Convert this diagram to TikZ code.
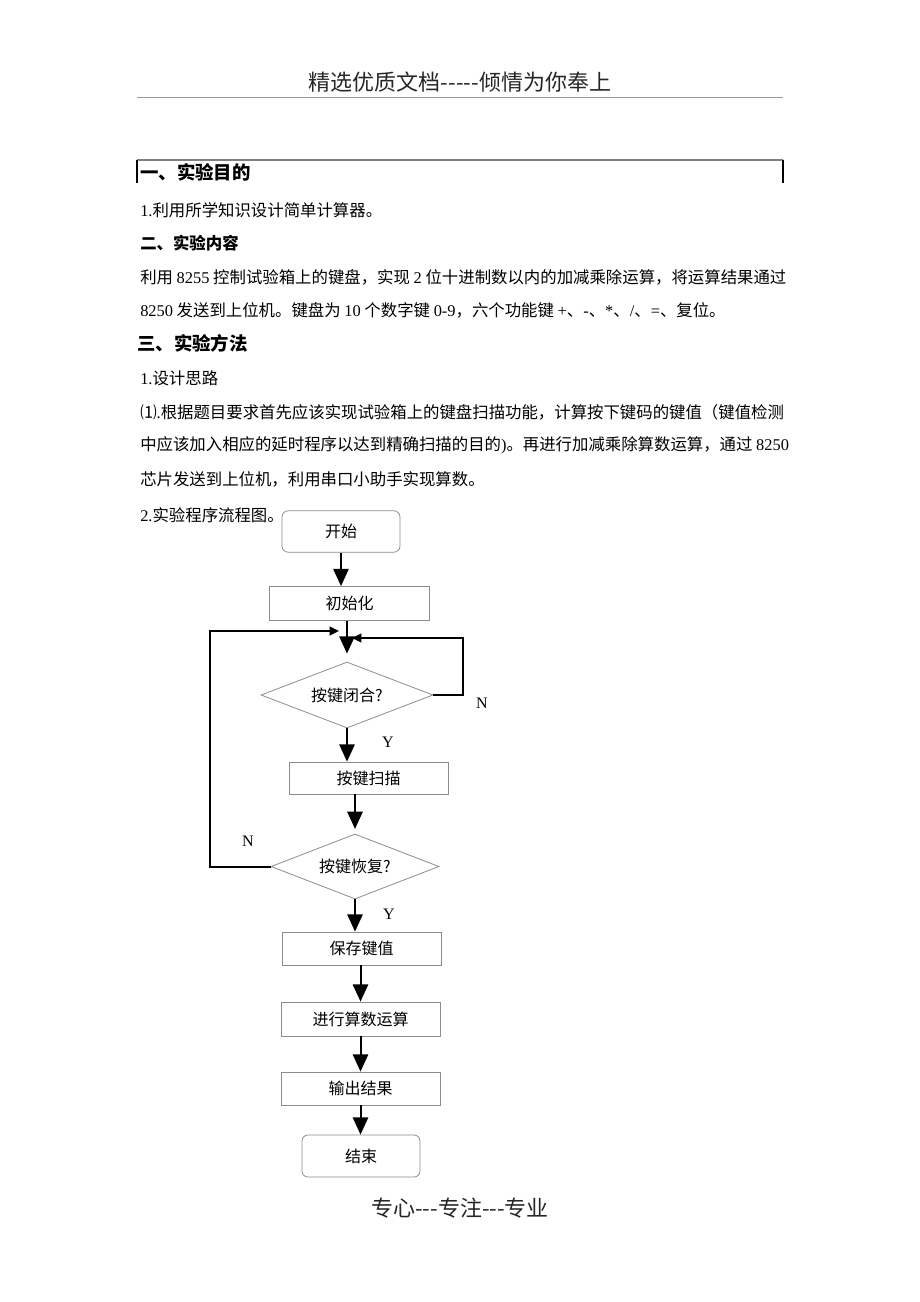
\documentclass[tikz,border=0pt]{standalone}
\usepackage{fontspec}
\setmainfont{Liberation Serif}
\newfontfamily\cjk[Ligatures=TeXOff]{Noto Sans CJK SC}
\usetikzlibrary{shapes.geometric,arrows.meta}
\newcommand\num[1]{{\rmfamily #1}}

\begin{document}
\begin{tikzpicture}[x=0.75pt,y=-0.75pt,
    txt/.style={anchor=west,inner sep=0pt,font=\cjk\fontsize{12.3pt}{14pt}\selectfont},
    head/.style={txt,font=\cjk\bfseries\fontsize{13.8pt}{16pt}\selectfont},
    box/.style={draw=black!45,line width=0.6pt,inner sep=0pt,font=\cjk\fontsize{12pt}{14pt}\selectfont,
      minimum width=119.25pt,minimum height=24.75pt},
    term/.style={box,rounded corners=4.5pt,minimum width=88.5pt,minimum height=31pt},
    test/.style={box,diamond,aspect=2.6,minimum width=129pt,minimum height=49.5pt},
    flow/.style={line width=1.5pt,-{Triangle[length=13pt,width=11.5pt]}},
    back/.style={line width=1.5pt,-{Triangle[length=7pt,width=6.5pt]}},
    yn/.style={inner sep=0pt,font=\fontsize{12pt}{14pt}\selectfont}]
  \useasboundingbox (0,0) rectangle (920,1302);
  \node[inner sep=0pt,text=black!85,font=\cjk\fontsize{16.5pt}{18pt}\selectfont] (title) at (460,82) {精选优质文档-----倾情为你奉上};
  \draw[black!40,line width=0.6pt] (137,97) -- (783,97);
  \draw[black!50,line width=1.2pt] (137,160) -- (783,160);
  \draw[line width=1.2pt] (137,160) -- (137,183) (783,160) -- (783,183);
  \node[head] (aim) at (140,172) {一、实验目的};
  \node[txt] (aim1) at (140,210) {\num{1.}利用所学知识设计简单计算器。};
  \node[head,font=\cjk\bfseries\fontsize{12.3pt}{14pt}\selectfont] (task) at (140,243) {二、实验内容};
  \node[txt] (task1) at (140,277) {利用 \num{8255} 控制试验箱上的键盘，实现 \num{2} 位十进制数以内的加减乘除运算，将运算结果通过};
  \node[txt] (task2) at (140,310) {\num{8250} 发送到上位机。键盘为 \num{10} 个数字键 \num{0-9}，六个功能键 \num{+}、\num{-}、\num{*}、\num{/}、\num{=}、复位。};
  \node[head] (method) at (137,343) {三、实验方法};
  \node[txt] (idea) at (140,378) {\num{1.}设计思路};
  \node[txt] (idea1) at (140,412) {⑴\num{.}根据题目要求首先应该实现试验箱上的键盘扫描功能，计算按下键码的键值（键值检测};
  \node[txt] (idea2) at (140,445) {中应该加入相应的延时程序以达到精确扫描的目的\num{)}。再进行加减乘除算数运算，通过 \num{8250}};
  \node[txt] (idea3) at (140,479) {芯片发送到上位机，利用串口小助手实现算数。};
  \node[txt] (chart) at (140,515) {\num{2.}实验程序流程图。};
  \node[term] (start) at (341,531.5) {开始};
  \node[box,minimum width=120pt,minimum height=25.5pt] (init) at (349.5,603.5) {初始化};
  \node[test] (closed) at (347,695) {按键闭合?};
  \node[box,minimum height=24pt] (scan) at (368.5,778) {按键扫描};
  \node[test,minimum width=126pt,minimum height=48.75pt] (release) at (355,866.5) {按键恢复?};
  \node[box] (save) at (361.5,948.5) {保存键值};
  \node[box,minimum height=25.5pt] (calc) at (360.5,1019) {进行算数运算};
  \node[box] (output) at (360.5,1088.5) {输出结果};
  \node[term,minimum height=31.5pt] (stop) at (361,1156) {结束};
  \coordinate (mergeL) at (339,631);
  \coordinate (mergeR) at (352,638);
  \draw[flow] (start.south) -- (start.south |- init.north);
  \draw[flow] (init.south -| closed.north) -- ([yshift=6pt]closed.north);
  \draw[flow] (closed.south) -- (closed.south |- scan.north);
  \draw[flow] (scan.south -| release.north) -- ([yshift=3.5pt]release.north);
  \draw[flow] (release.south) -- (release.south |- save.north);
  \draw[flow] (save.south -| calc.north) -- (calc.north);
  \draw[flow] (calc.south) -- (output.north);
  \draw[flow] (output.south) -- (output.south |- stop.north);
  \draw[back] (closed.east) -- ++(30,0) |- (mergeR);
  \draw[back] (release.west) -- ++(-61,0) |- (mergeL);
  \node[yn] (n1) at (482,703) {N};
  \node[yn] (y1) at (388,742) {Y};
  \node[yn] (n2) at (248,841) {N};
  \node[yn] (y2) at (389,914) {Y};
  \node[inner sep=0pt,text=black!85,font=\cjk\fontsize{16.5pt}{18pt}\selectfont] (foot) at (460,1208) {专心---专注---专业};
\end{tikzpicture}
\end{document}
